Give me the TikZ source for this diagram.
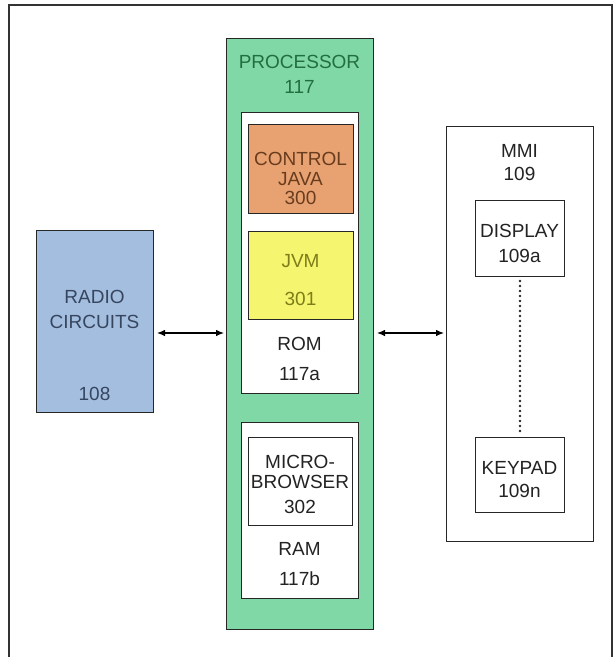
\documentclass[tikz,border=0pt]{standalone}
\usepackage{fontspec}
\setmainfont{Liberation Sans}
\usepackage{xcolor}
\usetikzlibrary{positioning,arrows.meta}
\definecolor{procgreen}{RGB}{128,216,166}
\definecolor{javaorange}{RGB}{232,162,114}
\definecolor{jvmyellow}{RGB}{246,245,112}
\definecolor{radioblue}{RGB}{164,190,224}
\definecolor{proctext}{RGB}{35,110,65}
\definecolor{javatext}{RGB}{105,60,30}
\definecolor{jvmtext}{RGB}{125,125,25}
\definecolor{radiotext}{RGB}{55,70,95}
\definecolor{inktext}{RGB}{35,35,35}
\begin{document}
\begin{tikzpicture}[x=1pt,y=-1pt,
	box/.style={draw=black!85,line width=1pt,inner sep=0pt,anchor=north west},
	lbl/.style={anchor=base,inner sep=0pt,text=inktext,font=\fontsize{19}{20}\selectfont},
	conn/.style={{Latex[length=8pt,width=6.5pt]}-{Latex[length=8pt,width=6.5pt]},line width=1.1pt,shorten <=3pt,shorten >=2pt}]
	\useasboundingbox (0,0) rectangle (613,657);
	% outer frame, open at the bottom
	\coordinate (fbl) at (9,657);
	\coordinate (ftl) at (9,5);
	\coordinate (ftr) at (612,5);
	\coordinate (fbr) at (612,657);
	\draw[line width=1.2pt,black!80] (fbl) -- (ftl) -- (ftr) -- (fbr);

	% processor
	\node[box,fill=procgreen,minimum width=147pt,minimum height=591pt] (proc) at (226,38) {};
	\node[lbl,text=proctext] (proclbl) at (299.5,68) {PROCESSOR};
	\node[lbl,text=proctext] (procnum) at (299.5,93) {117};
	% ROM
	\node[box,fill=white,minimum width=117pt,minimum height=281pt] (rom) at (241,112) {};
	\node[box,fill=javaorange,minimum width=105pt,minimum height=89pt] (java) at (248,124) {};
	\node[lbl,text=javatext] (javalbla) at (300.5,165) {CONTROL};
	\node[lbl,text=javatext] (javalblb) at (300.5,185) {JAVA};
	\node[lbl,text=javatext] (javanum) at (300.5,204) {300};
	\node[box,fill=jvmyellow,minimum width=105pt,minimum height=88pt] (jvm) at (248,231) {};
	\node[lbl,text=jvmtext] (jvmlbl) at (300.5,267) {JVM};
	\node[lbl,text=jvmtext] (jvmnum) at (300.5,305) {301};
	\node[lbl] (romlbl) at (299.5,350) {ROM};
	\node[lbl] (romnum) at (299.5,380) {117a};
	% RAM
	\node[box,fill=white,minimum width=117pt,minimum height=176pt] (ram) at (241,422) {};
	\node[box,fill=white,minimum width=104pt,minimum height=88pt] (browser) at (248,437) {};
	\node[lbl] (browserlbla) at (300,468) {MICRO-};
	\node[lbl] (browserlblb) at (300,488) {BROWSER};
	\node[lbl] (browsernum) at (300,513) {302};
	\node[lbl] (ramlbl) at (299.5,555) {RAM};
	\node[lbl] (ramnum) at (299.5,585) {117b};

	% radio circuits
	\node[box,fill=radioblue,minimum width=117pt,minimum height=182pt] (radio) at (36,230) {};
	\node[lbl,text=radiotext] (radiolbla) at (94.5,303) {RADIO};
	\node[lbl,text=radiotext] (radiolblb) at (94.5,328) {CIRCUITS};
	\node[lbl,text=radiotext] (radionum) at (94.5,400) {108};

	% MMI
	\node[box,fill=white,minimum width=147pt,minimum height=415pt] (mmi) at (446,126) {};
	\node[lbl] (mmilbl) at (519.5,157) {MMI};
	\node[lbl] (mminum) at (519.5,180) {109};
	\node[box,fill=white,minimum width=89pt,minimum height=76pt] (display) at (475,200) {};
	\node[lbl] (displaylbl) at (519.5,237) {DISPLAY};
	\node[lbl] (displaynum) at (519.5,262) {109a};
	\node[box,fill=white,minimum width=89pt,minimum height=75pt] (keypad) at (475,437) {};
	\node[lbl] (keypadlbl) at (519.5,474) {KEYPAD};
	\node[lbl] (keypadnum) at (519.5,497) {109n};
	\draw[line width=2.8pt,line cap=round,dash pattern=on 0pt off 5pt,black!85,shorten <=4pt,shorten >=3pt] (display.south) -- (keypad.north);

	% links
	\coordinate (busy) at (0,333);
	\draw[conn] (radio.east |- busy) -- (proc.west |- busy);
	\draw[conn] (proc.east |- busy) -- (mmi.west |- busy);
\end{tikzpicture}
\end{document}
